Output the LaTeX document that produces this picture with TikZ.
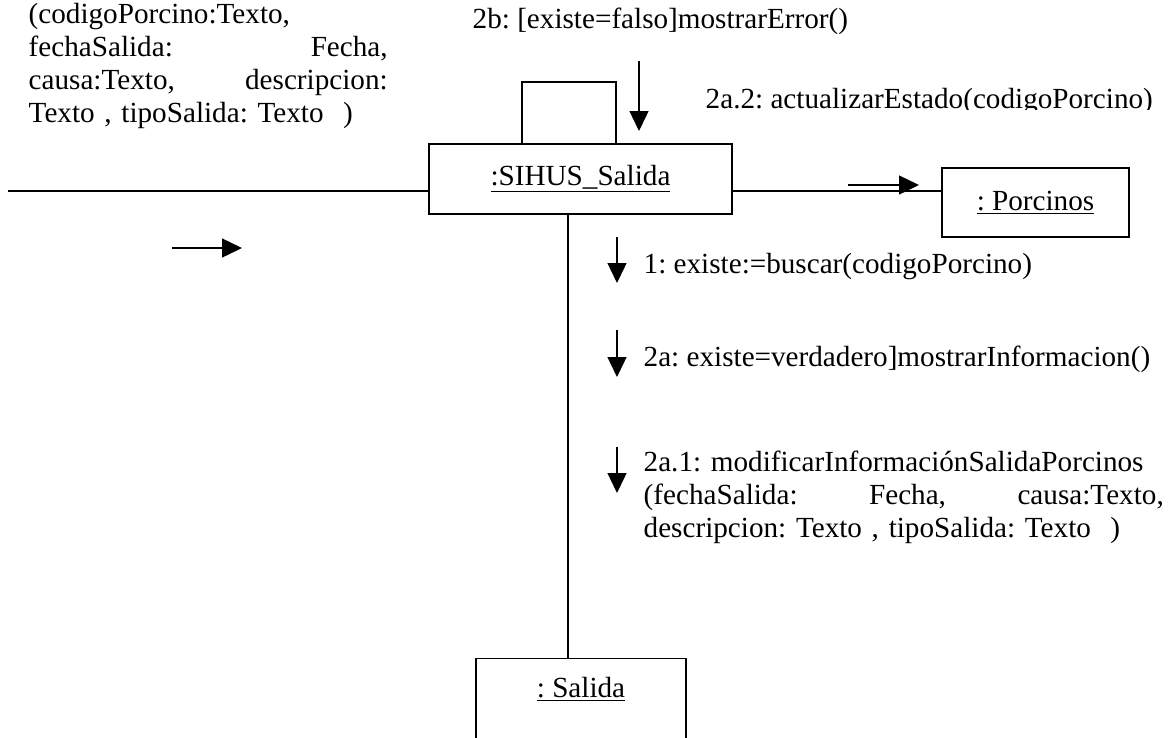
\documentclass[tikz,border=0pt]{standalone}
\usepackage{fontspec}
\setmainfont{Liberation Serif}
\usetikzlibrary{arrows.meta}

\begin{document}
\frenchspacing
\begin{tikzpicture}[
    font=\fontsize{16.6}{18.8}\selectfont,
    line width=0.8pt,
    objbox/.style={draw, rectangle, inner sep=0pt},
    msgtext/.style={anchor=base west, inner sep=0pt},
    msgarrow/.style={-{Triangle[length=0.4cm, width=0.38cm]}},
]

% Canvas
\useasboundingbox (0,0) rectangle (23.38,-14.74);
\clip (0,0) rectangle (23.38,-14.74);

% Y coordinates
\def\linky{-3.82}
\def\loopy{-1.64}

% X positions
\def\vx{11.36}
\def\msgx{12.34}
\def\txtx{12.86}

% Objects
\node[objbox, minimum width=6.06cm, minimum height=1.4cm] (sihus) at (11.61, -3.58) {\underline{:SIHUS\_Salida}};

\node[objbox, minimum width=3.74cm, minimum height=1.38cm] (porcinos) at (20.71, -4.05) {\underline{: Porcinos}};

\node[objbox, minimum width=4.2cm, anchor=north,
    text height=0.6cm, text depth=1cm, inner ysep=0.18cm] (salida) at (11.62, -13.16) {\underline{: Salida}};

% Links
\coordinate (leftend) at (0.16, \linky);
\coordinate (vlink) at (\vx, \linky);
\draw (leftend) -- (leftend -| sihus.west);
\draw (sihus.east |- leftend) -- (porcinos.west |- leftend);
\draw (vlink |- sihus.south) -- (vlink |- salida.north);

% Self link
\coordinate (loopl) at (10.44, \loopy);
\coordinate (loopr) at (12.32, \loopy);
\draw (loopl |- sihus.north) -- (loopl) -- (loopr) -- (loopr |- sihus.north);

% Message arrows
\coordinate (m0-s) at (3.44, -4.96);   \coordinate (m0-e) at (4.84, -4.96);
\coordinate (m2a2-s) at (16.96, -3.70); \coordinate (m2a2-e) at (18.38, -3.70);
\coordinate (m2b-s) at (12.78, -1.22);  \coordinate (m2b-e) at (12.78, -2.62);
\coordinate (m1-s) at (\msgx, -4.74);   \coordinate (m1-e) at (\msgx, -5.66);
\coordinate (m2a-s) at (\msgx, -6.60);  \coordinate (m2a-e) at (\msgx, -7.54);
\coordinate (m2a1-s) at (\msgx, -8.94); \coordinate (m2a1-e) at (\msgx, -9.86);

\foreach \m in {m0, m2a2, m2b, m1, m2a, m2a1} {
    \draw[msgarrow] (\m-s) -- (\m-e);
}

% Message labels
\node[msgtext, text width=7.18cm, align=left] (m0txt) at (0.56, -0.46)
    {(codigoPorcino:Texto,\\ fechaSalida:\hfill Fecha,\\ causa:Texto,\hfill descripcion:\\ Texto , tipoSalida: Texto\ \ )};

\node[msgtext] (m2btxt) at (9.44, -0.56) {2b: [existe=falso]mostrarError()};

\begin{scope}
    \clip (13.8, -1.5) rectangle (23.38, -2.19);
    \node[msgtext] (m2a2txt) at (14.10, -2.16) {2a.2: actualizarEstado(codigoPorcino)};
\end{scope}

\node[msgtext] (m1txt) at (\txtx, -5.46) {1: existe:=buscar(codigoPorcino)};
\node[msgtext] (m2atxt) at (\txtx, -7.32) {2a: existe=verdadero]mostrarInformacion()};

\node[msgtext, text width=10.4cm, align=left] (m2a1txt) at (\txtx, -9.42)
    {2a.1: modificarInformaciónSalidaPorcinos\\ (fechaSalida:\hfill Fecha,\hfill causa:Texto,\\ descripcion: Texto , tipoSalida: Texto\ \ )};

\end{tikzpicture}
\end{document}
